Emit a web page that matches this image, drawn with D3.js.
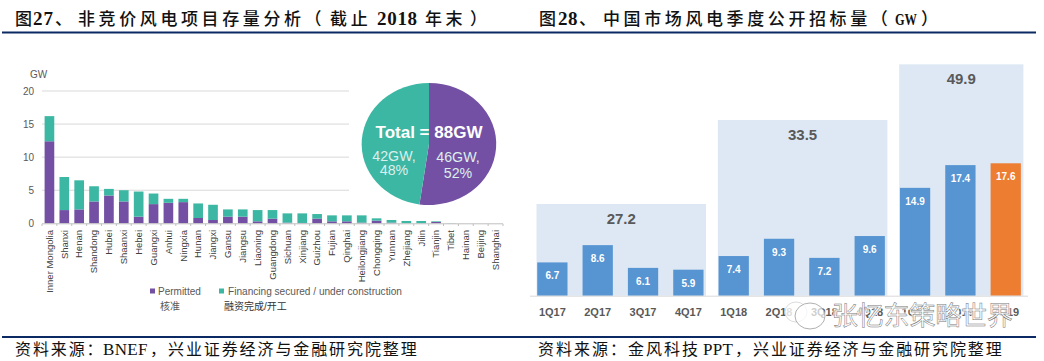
<!DOCTYPE html>
<html>
<head>
<meta charset="utf-8">
<script src="https://cdn.jsdelivr.net/npm/d3@7"></script>
<style>
html, body { margin: 0; padding: 0; background: #fff; }
svg { display: block; }
text { font-family: "Liberation Sans", "Noto Sans CJK SC", sans-serif; }
.head text, .src text { font-family: "Liberation Serif", "Noto Sans CJK SC", serif; fill: #111; }
</style>
</head>
<body>
<svg id="page" width="1044" height="361"></svg>
<script>
// left chart: non-tender wind projects by province
provinces = ["Inner Mongolia","Shanxi","Henan","Shandong","Hubei","Shaanxi","Hebei","Guangxi","Anhui","Ningxia","Hunan","Jiangxi","Gansu","Jiangsu","Liaoning","Guangdong","Sichuan","Xinjiang","Guizhou","Fujian","Qinghai","Heilongjiang","Chongqing","Yunnan","Zhejiang","Jilin","Tianjin","Tibet","Hainan","Beijing","Shanghai"];
permitted = [12.4,2.0,2.1,3.3,4.2,3.3,1.0,2.9,3.1,3.2,0.8,0.5,1.0,1.0,0.3,0.7,0.1,0.05,0.7,0.3,0.3,0.1,0.4,0.1,0,0,0.2,0,0,0,0];
financing = [3.8,5.0,4.4,2.3,1.0,1.7,3.8,1.6,0.6,0.5,2.2,2.3,1.1,1.1,1.7,1.3,1.4,1.45,0.7,0.9,0.9,1.1,0.35,0.4,0.35,0.35,0.1,0.03,0,0,0];
yTicks = [0,5,10,15,20];
pieValues = [46,42];

// right chart: quarterly public tenders
quarters = ["1Q17","2Q17","3Q17","4Q17","1Q18","2Q18","3Q18","4Q18","1Q19","2Q19","3Q19"];
tenders = [6.7,8.6,6.1,5.9,7.4,9.3,7.2,9.6,14.9,17.4,17.6];
yearTotals = [27.2,33.5,49.9];
yearFirst = ["1Q17","1Q18","1Q19"];
yearLast = ["4Q17","4Q18","3Q19"];

PURPLE = "#7350A3";
TEAL = "#3CB7A3";
BLUE = "#5694D2";
ORANGE = "#ED7D31";
PANEL = "#DDE8F4";
GREY = "#595959";
NAVY = "#0B2A63";

svg = d3.select("#page");

// the CJK runs are spaced out and the latin runs are not, so each run gets its own x
function drawRun(g, y, run) {
    g.append("text").attr("x", run[1]).attr("y", y)
        .attr("font-size", run[2])
        .attr("font-weight", run[4] || 400)
        .style("letter-spacing", run[3] + "px")
        .text(run[0]);
}

head = svg.append("g").classed("head", true);
[["图", 15, 17, 0, 500], ["27", 33, 19, 1, 700], ["、", 55, 17, 0, 500],
 ["非竞价风电项目存量分析（", 78, 17, 3.6, 500], ["截止", 330, 17, 3.8, 500], ["2018", 377, 19, 0.7, 700],
 ["年末", 425, 17, 3.6, 500], ["）", 470, 17, 0, 500],
 ["图", 539, 17, 0, 500], ["28", 558, 19, 0.5, 700], ["、", 579, 17, 0, 500],
 ["中国市场风电季度公开招标量（", 603, 17, 3.6, 500], ["）", 921, 17, 0, 500]
].forEach(r => drawRun(head, 25, r));
// GW is condensed in the original
head.append("text").attr("x", 895).attr("y", 25).attr("font-size", 17).attr("font-weight", 700)
    .attr("textLength", 22).attr("lengthAdjust", "spacingAndGlyphs").text("GW");

src = svg.append("g").classed("src", true);
[["资料来源：", 15, 16, 1.9], ["BNEF", 103, 17, 0.3], ["，", 150, 16, 0], ["兴业证券经济与金融研究院整理", 168, 16, 1.9],
 ["资料来源：", 538, 16, 2], ["金风科技", 628, 16, 2], ["PPT", 703, 17, 0.3], ["，", 735, 16, 0], ["兴业证券经济与金融研究院整理", 753, 16, 1.9]
].forEach(r => drawRun(src, 355, r));

[[2,520],[520,1036]].forEach(d => {
    svg.append("line").attr("x1", d[0]).attr("x2", d[1]).attr("y1", 32.5).attr("y2", 32.5)
        .attr("stroke", NAVY).attr("stroke-width", 2);
    svg.append("line").attr("x1", d[0]).attr("x2", d[1]).attr("y1", 337).attr("y2", 337)
        .attr("stroke", NAVY).attr("stroke-width", 2);
});

// ---- stacked bars
x1 = d3.scaleBand().domain(provinces).range([42, 503]).paddingInner(0.35).paddingOuter(0.175);
y1 = d3.scaleLinear().domain([0, 20]).range([223.3, 91]);

left = svg.append("g");
left.selectAll(".grid").data(yTicks.slice(1)).join("line").classed("grid", true)
    .attr("x1", 42).attr("x2", 349)
    .attr("y1", d => y1(d)).attr("y2", d => y1(d))
    .attr("stroke", "#D9D9D9").attr("stroke-width", 1);

left.selectAll(".yLabel").data(yTicks).join("text").classed("yLabel", true)
    .attr("x", 34).attr("y", d => y1(d) + 3.7)
    .attr("text-anchor", "end").attr("font-size", 10).attr("fill", GREY)
    .text(d => d);
left.append("text").attr("x", 30).attr("y", 78).attr("font-size", 10).attr("fill", GREY).text("GW");

stack = d3.stack().keys(["permitted","financing"])(provinces.map((p, i) => ({permitted: permitted[i], financing: financing[i]})));
colors1 = [PURPLE, TEAL];
stack.forEach((layer, k) => {
    left.append("g").selectAll("rect").data(layer).join("rect")
        .attr("x", (d, i) => x1(provinces[i]))
        .attr("width", x1.bandwidth())
        .attr("y", d => y1(d[1]))
        .attr("height", d => y1(d[0]) - y1(d[1]))
        .attr("fill", colors1[k]);
});

left.append("line").attr("x1", 42).attr("x2", 503).attr("y1", 223.8).attr("y2", 223.8)
    .attr("stroke", "#BFBFBF").attr("stroke-width", 1);
left.selectAll(".tick").data(d3.range(provinces.length + 1)).join("line").classed("tick", true)
    .attr("x1", d => x1.range()[0] + d * x1.step()).attr("x2", d => x1.range()[0] + d * x1.step())
    .attr("y1", 223.8).attr("y2", 226)
    .attr("stroke", "#BFBFBF");

left.selectAll(".xLabel").data(provinces).join("text").classed("xLabel", true)
    .attr("text-anchor", "end").attr("font-size", 9.5).attr("fill", "#404040")
    .attr("transform", d => `translate(${x1(d) + x1.bandwidth() / 2 + 3.3}, 230) rotate(-90)`)
    .text(d => d);

// legend
left.append("rect").attr("x", 150).attr("y", 288.5).attr("width", 5).attr("height", 5).attr("fill", PURPLE);
left.append("text").attr("x", 158).attr("y", 295).attr("font-size", 10).attr("fill", GREY).text("Permitted");
left.append("rect").attr("x", 219).attr("y", 288.5).attr("width", 5).attr("height", 5).attr("fill", TEAL);
left.append("text").attr("x", 228).attr("y", 295).attr("font-size", 10.1).attr("fill", GREY).text("Financing secured / under construction");
left.append("text").attr("x", 160).attr("y", 310).attr("font-size", 10).attr("fill", GREY).text("核准");
left.append("text").attr("x", 224).attr("y", 310).attr("font-size", 10).attr("fill", "#333").text("融资完成/开工");

// pie, squashed like the original
pie = d3.pie().sort(null)(pieValues);
arc = d3.arc().innerRadius(0).outerRadius(1);
pieG = svg.append("g").attr("transform", "translate(429,144) scale(67.3,61)");
pieG.selectAll("path").data(pie).join("path")
    .attr("d", arc)
    .attr("fill", (d, i) => [PURPLE, TEAL][i]);

svg.append("text").attr("x", 429).attr("y", 138).attr("text-anchor", "middle")
    .attr("font-size", 17).attr("font-weight", 700).attr("fill", "#fff").text("Total = 88GW");
pieLabels = [["42GW,", 394, 161], ["48%", 394, 175], ["46GW,", 458, 162], ["52%", 458, 178]];
svg.selectAll(".pieLabel").data(pieLabels).join("text").classed("pieLabel", true)
    .attr("x", d => d[1]).attr("y", d => d[2]).attr("text-anchor", "middle")
    .attr("font-size", 14.2).attr("fill", "#DDEFEC")
    .text(d => d[0]);

// ---- tender bars
x2 = d3.scaleBand().domain(quarters).range([529.7, 1028.4]).paddingInner(0.332).paddingOuter(0.166);
// axis in the original does not start at zero
y2 = d3.scaleLinear().domain([3.04, 17.6]).range([295.7, 163.3]);
// year panels are not drawn to the bars' scale
yPanel = d3.scaleLinear().domain(yearTotals).range([204, 120, 64.3]);

right = svg.append("g");
yearTotals.forEach((t, i) => {
    x0 = x2(yearFirst[i]) - 0.7;
    xe = x2(yearLast[i]) + x2.bandwidth() + 2.5;
    right.append("rect").attr("x", x0).attr("width", xe - x0)
        .attr("y", yPanel(t)).attr("height", y2.range()[0] - yPanel(t))
        .attr("fill", PANEL);
    right.append("text").attr("x", (x0 + xe) / 2).attr("y", yPanel(t) + 20)
        .attr("text-anchor", "middle").attr("font-size", 15).attr("font-weight", 700)
        .attr("fill", GREY).text(t.toFixed(1));
});

right.selectAll(".bar").data(tenders).join("rect").classed("bar", true)
    .attr("x", (d, i) => x2(quarters[i]))
    .attr("width", x2.bandwidth())
    .attr("y", d => y2(d))
    .attr("height", d => y2.range()[0] - y2(d))
    .attr("fill", (d, i) => i == quarters.length - 1 ? ORANGE : BLUE);

right.selectAll(".barLabel").data(tenders).join("text").classed("barLabel", true)
    .attr("x", (d, i) => x2(quarters[i]) + x2.bandwidth() / 2)
    .attr("y", d => y2(d) + 17)
    .attr("text-anchor", "middle").attr("font-size", 10).attr("font-weight", 700)
    .attr("fill", "#fff").text(d => d.toFixed(1));

right.append("line").attr("x1", 530).attr("x2", 1028).attr("y1", 296.2).attr("y2", 296.2)
    .attr("stroke", "#D9D9D9").attr("stroke-width", 1);

right.selectAll(".qLabel").data(quarters).join("text").classed("qLabel", true)
    .attr("x", d => x2(d) + x2.bandwidth() / 2)
    .attr("y", 316)
    .attr("text-anchor", "middle").attr("font-size", 11).attr("font-weight", 700)
    .attr("fill", GREY).text(d => d);

// watermark, sits on top of the quarter labels in the original too
wm = svg.append("g");
wm.append("ellipse").attr("cx", 796).attr("cy", 312).attr("rx", 11).attr("ry", 10)
    .attr("fill", "#fff").attr("fill-opacity", 0.8).attr("stroke", "#dcdcdc");
wm.append("ellipse").attr("cx", 810).attr("cy", 316).attr("rx", 15).attr("ry", 13)
    .attr("fill", "#fff").attr("fill-opacity", 0.7).attr("stroke", "#b0b0b0");
wm.append("text").attr("x", 832).attr("y", 325).attr("font-size", 26)
    .style("letter-spacing", "-0.2px")
    .attr("fill", "#fff").attr("stroke", "#fff").attr("stroke-opacity", 0.75).attr("stroke-width", 3)
    .text("张忆东策略世界");
wm.append("text").attr("x", 832).attr("y", 325).attr("font-size", 26)
    .style("letter-spacing", "-0.2px")
    .attr("fill", "#fff").attr("stroke", "#777").attr("stroke-width", 0.5)
    .text("张忆东策略世界");
</script>
</body>
</html>
